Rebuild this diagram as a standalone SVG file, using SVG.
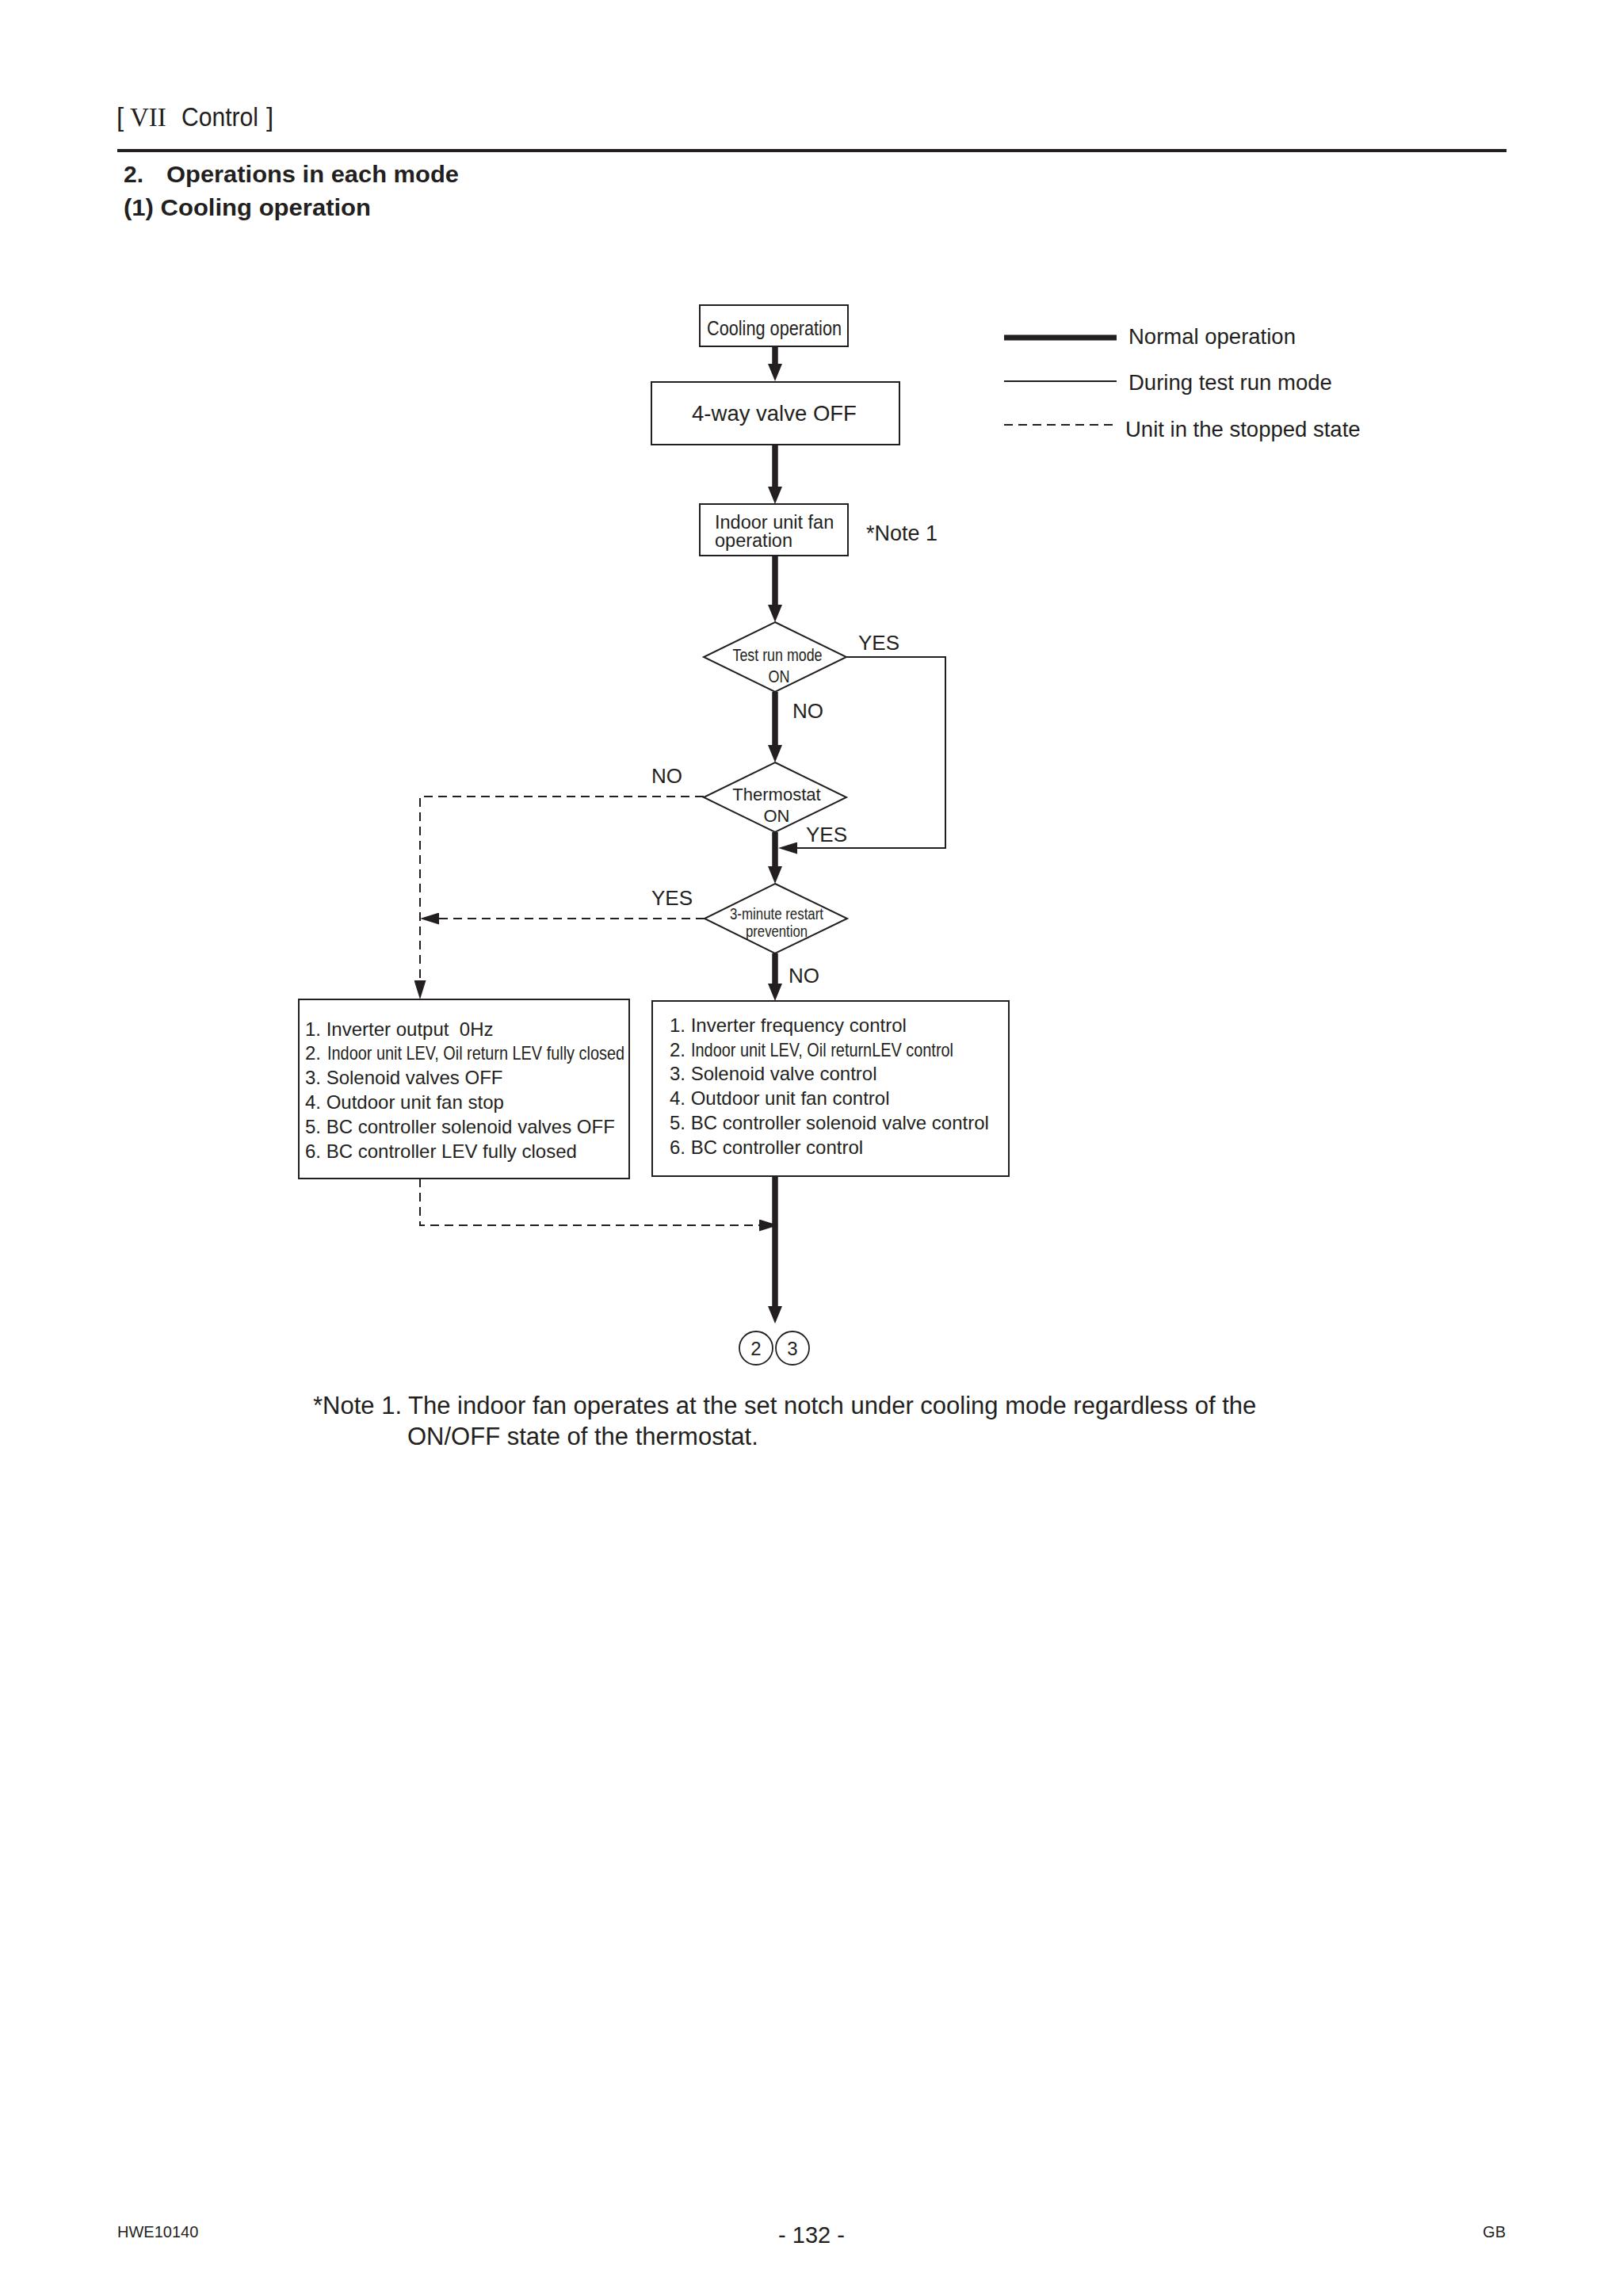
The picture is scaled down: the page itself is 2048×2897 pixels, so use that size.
<svg xmlns="http://www.w3.org/2000/svg" width="2048" height="2897" viewBox="0 0 2048 2897">
<style>
text{font-family:"Liberation Sans",Arial,sans-serif;fill:#231f20}
.box{fill:#fff;stroke:#231f20;stroke-width:2}
.thick{stroke:#231f20;stroke-width:7.5;fill:none}
.thin{stroke:#231f20;stroke-width:2;fill:none}
.dash{stroke:#231f20;stroke-width:2;fill:none;stroke-dasharray:11 7}
.lbl{font-size:26px}
.leg{font-size:27.5px}
.item{font-size:24px}
.bold{font-weight:bold;font-size:30px}
</style>
<defs>
<marker id="ahThick" markerUnits="userSpaceOnUse" viewBox="0 0 22 18" refX="8" refY="9" markerWidth="22" markerHeight="18" orient="auto">
<path d="M0,0 L22,9 L0,18 Z" fill="#231f20"/>
</marker>
<marker id="ahThin" markerUnits="userSpaceOnUse" viewBox="0 0 24 15" refX="20" refY="7.5" markerWidth="24" markerHeight="15" orient="auto">
<path d="M0,0 L24,7.5 L0,15 Z" fill="#231f20"/>
</marker>
</defs>
<rect width="2048" height="2897" fill="#fff"/>

<g id="header">
<text x="147" y="159" font-size="33">[</text>
<text x="164" y="159" font-size="33" style="font-family:'Liberation Serif','Times New Roman',serif">VII</text>
<text x="229" y="159" font-size="33" textLength="97" lengthAdjust="spacingAndGlyphs">Control</text>
<text x="336" y="159" font-size="33">]</text>
<line x1="148" y1="190" x2="1901" y2="190" stroke="#231f20" stroke-width="4"/>
<text class="bold" x="156" y="230">2.</text>
<text class="bold" x="210" y="230" textLength="369" lengthAdjust="spacingAndGlyphs">Operations in each mode</text>
<text class="bold" x="156" y="272" textLength="312" lengthAdjust="spacingAndGlyphs">(1) Cooling operation</text>
</g>

<g id="legend">
<line x1="1267" y1="426" x2="1409" y2="426" stroke="#231f20" stroke-width="7"/>
<text class="leg" x="1424" y="434">Normal operation</text>
<line class="thin" x1="1267" y1="481" x2="1409" y2="481"/>
<text class="leg" x="1424" y="492">During test run mode</text>
<line class="dash" x1="1267" y1="536" x2="1407" y2="536"/>
<text class="leg" x="1420" y="551">Unit in the stopped state</text>
</g>

<g id="connectors">
<line class="thick" x1="978" y1="437" x2="978" y2="467" marker-end="url(#ahThick)"/>
<line class="thick" x1="978" y1="561" x2="978" y2="622" marker-end="url(#ahThick)"/>
<line class="thick" x1="978" y1="701" x2="978" y2="771" marker-end="url(#ahThick)"/>
<line class="thick" x1="978" y1="873" x2="978" y2="948" marker-end="url(#ahThick)"/>
<line class="thick" x1="978" y1="1050" x2="978" y2="1101" marker-end="url(#ahThick)"/>
<line class="thick" x1="978" y1="1203" x2="978" y2="1249" marker-end="url(#ahThick)"/>
<line class="thick" x1="978" y1="1484" x2="978" y2="1656" marker-end="url(#ahThick)"/>
<polyline class="thin" points="1068,829 1193,829 1193,1070 986,1070" marker-end="url(#ahThin)"/>
<polyline class="dash" points="888,1005 530,1005 530,1257" marker-end="url(#ahThin)"/>
<line class="dash" x1="889" y1="1159" x2="534" y2="1159" marker-end="url(#ahThin)"/>
<polyline class="dash" points="530,1487 530,1546 978,1546" marker-end="url(#ahThin)"/>
<text class="lbl" x="1083" y="820">YES</text>
<text class="lbl" x="1000" y="906">NO</text>
<text class="lbl" x="822" y="988">NO</text>
<text class="lbl" x="1017" y="1062">YES</text>
<text class="lbl" x="822" y="1142">YES</text>
<text class="lbl" x="995" y="1240">NO</text>
</g>

<g id="n-cooling">
<rect class="box" x="883" y="385" width="187" height="52"/>
<text x="977" y="423" font-size="26" text-anchor="middle" textLength="170" lengthAdjust="spacingAndGlyphs">Cooling operation</text>
</g>

<g id="n-4way">
<rect class="box" x="822" y="482" width="313" height="79"/>
<text x="977" y="531" font-size="27.5" text-anchor="middle">4-way valve OFF</text>
</g>

<g id="n-indoor">
<rect class="box" x="883" y="636" width="187" height="65"/>
<text x="902" y="667" font-size="23.5">Indoor unit fan</text>
<text x="902" y="690" font-size="23.5">operation</text>
<text x="1093" y="682" font-size="27">*Note 1</text>
</g>

<g id="n-testrun">
<polygon class="box" points="978,785 1068,829 978,873 888,829"/>
<text x="981" y="834" font-size="22" text-anchor="middle" textLength="113" lengthAdjust="spacingAndGlyphs">Test run mode</text>
<text x="983" y="861" font-size="22" text-anchor="middle" textLength="27" lengthAdjust="spacingAndGlyphs">ON</text>
</g>

<g id="n-thermo">
<polygon class="box" points="978,962 1068,1006 978,1050 888,1006"/>
<text x="980" y="1010" font-size="22" text-anchor="middle">Thermostat</text>
<text x="980" y="1037" font-size="22" text-anchor="middle">ON</text>
</g>

<g id="n-3min">
<polygon class="box" points="978,1115 1069,1159 978,1203 889,1159"/>
<text x="980" y="1160" font-size="21" text-anchor="middle" textLength="118" lengthAdjust="spacingAndGlyphs">3-minute restart</text>
<text x="980" y="1182" font-size="21" text-anchor="middle" textLength="78" lengthAdjust="spacingAndGlyphs">prevention</text>
</g>

<g id="n-stop">
<rect class="box" x="377" y="1261" width="417" height="226"/>
<text class="item" x="385" y="1307">1. Inverter output&#160; 0Hz</text>
<text class="item" x="385" y="1337">2.</text>
<text class="item" x="413" y="1337" textLength="375" lengthAdjust="spacingAndGlyphs">Indoor unit LEV, Oil return LEV fully closed</text>
<text class="item" x="385" y="1368">3. Solenoid valves OFF</text>
<text class="item" x="385" y="1399">4. Outdoor unit fan stop</text>
<text class="item" x="385" y="1430">5. BC controller solenoid valves OFF</text>
<text class="item" x="385" y="1461">6. BC controller LEV fully closed</text>
</g>

<g id="n-run">
<rect class="box" x="823" y="1263" width="450" height="221"/>
<text class="item" x="845" y="1302">1. Inverter frequency control</text>
<text class="item" x="845" y="1333">2.</text>
<text class="item" x="872" y="1333" textLength="331" lengthAdjust="spacingAndGlyphs">Indoor unit LEV, Oil returnLEV control</text>
<text class="item" x="845" y="1363">3. Solenoid valve control</text>
<text class="item" x="845" y="1394">4. Outdoor unit fan control</text>
<text class="item" x="845" y="1425">5. BC controller solenoid valve control</text>
<text class="item" x="845" y="1456">6. BC controller control</text>
</g>

<g id="n-conn">
<circle cx="954" cy="1701" r="21" fill="#fff" stroke="#231f20" stroke-width="1.8"/>
<circle cx="1000" cy="1701" r="21" fill="#fff" stroke="#231f20" stroke-width="1.8"/>
<text x="954" y="1710" font-size="24" text-anchor="middle">2</text>
<text x="1000" y="1710" font-size="24" text-anchor="middle">3</text>
</g>

<g id="note">
<text x="395" y="1784" font-size="31">*Note 1. The indoor fan operates at the set notch under cooling mode regardless of the</text>
<text x="514" y="1823" font-size="31">ON/OFF state of the thermostat.</text>
</g>

<g id="footer">
<text x="148" y="2823" font-size="20">HWE10140</text>
<text x="1024" y="2830" font-size="29" text-anchor="middle">- 132 -</text>
<text x="1900" y="2823" font-size="20" text-anchor="end">GB</text>
</g>
</svg>
